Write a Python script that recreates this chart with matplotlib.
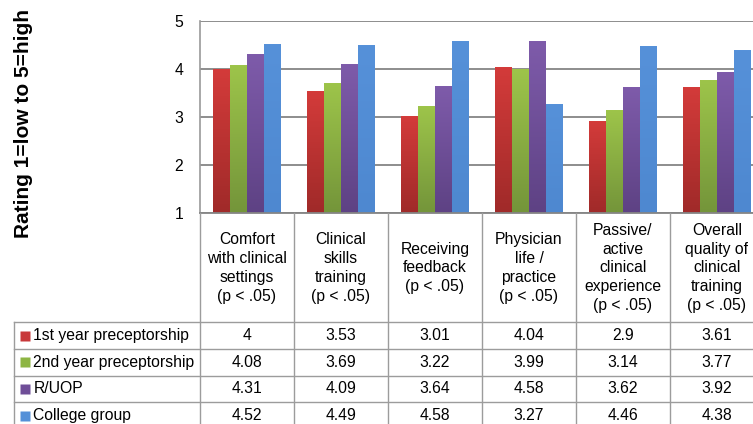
import numpy as np
import matplotlib
matplotlib.use('Agg')
import matplotlib.pyplot as plt
from matplotlib.colors import LinearSegmentedColormap

plt.rcParams['font.family'] = ['Liberation Sans', 'DejaVu Sans']

categories = ['Comfort\nwith clinical\nsettings\n(p < .05)',
              'Clinical\nskills\ntraining\n(p < .05)',
              'Receiving\nfeedback\n(p < .05)',
              'Physician\nlife /\npractice\n(p < .05)',
              'Passive/\nactive\nclinical\nexperience\n(p < .05)',
              'Overall\nquality of\nclinical\ntraining\n(p < .05)']
series = ['1st year preceptorship', '2nd year preceptorship', 'R/UOP', 'College group']
first_year = [4, 3.53, 3.01, 4.04, 2.9, 3.61]
second_year = [4.08, 3.69, 3.22, 3.99, 3.14, 3.77]
ruop = [4.31, 4.09, 3.64, 4.58, 3.62, 3.92]
college = [4.52, 4.49, 4.58, 3.27, 4.46, 4.38]
values = [first_year, second_year, ruop, college]
# (top colour, bottom colour) for the gradient fill
colors = [('#D33B3A', '#A02A29'), ('#9DC44A', '#74953A'),
          ('#7E5BAA', '#5E4284'), ('#5691D9', '#4E88D0')]
flat = ['#C8383A', '#8DB543', '#6F4E98', '#5490D8']

W, H = 753, 424
fig = plt.figure(figsize=(W / 100, H / 100), dpi=100)

# plot area in pixels: left 200, column width 94, y=5 at 21px, y=1 at 213px
col_w = 94
x0 = 200
fs = 11.3
ax = fig.add_axes([x0 / W, (H - 213) / H, 6 * col_w / W, 192 / H])
ax.set_xlim(-0.5, 5.5)
ax.set_ylim(1, 5)
ax.set_yticks([1, 2, 3, 4, 5])
ax.set_yticklabels(['1', '2', '3', '4', '5'], fontsize=fs)
ax.tick_params(axis='y', length=0, pad=12)
ax.set_xticks([])
ax.yaxis.grid(True, color='#858585', lw=1.3)
ax.set_axisbelow(True)
for s in ['top', 'right', 'bottom']:
    ax.spines[s].set_visible(False)
ax.spines['left'].set_color('#9a9a9a')
ax.spines['left'].set_linewidth(1.2)

x = np.arange(len(categories))
bw = 17 / col_w
grad = np.linspace(1, 0, 64).reshape(-1, 1)
for k, vals in enumerate(values):
    cmap = LinearSegmentedColormap.from_list('c%d' % k, [colors[k][1], colors[k][0]])
    offs = (k - 1.5) * bw
    bars = ax.bar(x + offs, np.array(vals) - 1, bw, bottom=1, color='none',
                  edgecolor='none', zorder=3)
    for b in bars:
        bx, by = b.get_x(), b.get_y()
        ax.imshow(grad, cmap=cmap, aspect='auto', zorder=3,
                  extent=[bx, bx + b.get_width(), by, by + b.get_height()],
                  vmin=0, vmax=1)
ax.set_xlim(-0.5, 5.5)
ax.set_ylim(1, 5)

# y label
fig.text(24 / W, 1 - 124 / H, 'Rating 1=low to 5=high', rotation=90,
         fontsize=15, fontweight='bold', ha='center', va='center')

# data table drawn in an overlay with pixel coordinates
tab = fig.add_axes([0, 0, 1, 1])
tab.set_xlim(0, W)
tab.set_ylim(H, 0)
tab.axis('off')
lc = '#9c9c9c'
right = x0 + 6 * col_w
row_lines = [322, 349, 375.5, 402, 429]
tab.plot([x0, right], [213, 213], color='#858585', lw=1.3)
for yl in row_lines:
    tab.plot([14, right], [yl, yl], color=lc, lw=1)
tab.plot([14, 14], [322, 429], color=lc, lw=1)
for i in range(7):
    xv = x0 + i * col_w
    tab.plot([xv, xv], [213, 429], color=lc, lw=1)

for i, cat in enumerate(categories):
    cx = x0 + (i + 0.5) * col_w
    tab.text(cx, 268, cat, ha='center', va='center', fontsize=fs,
             linespacing=1.32)
    for r in range(4):
        cy = (row_lines[r] + row_lines[r + 1]) / 2
        v = values[r][i]
        tab.text(cx, cy, ('%g' % v), ha='center', va='center', fontsize=fs)

for r, name in enumerate(series):
    cy = (row_lines[r] + row_lines[r + 1]) / 2
    tab.plot([25], [cy], marker='s', ms=7.8, color=flat[r], mec='none')
    tab.text(33.5, cy, name, ha='left', va='center', fontsize=fs)

fig.savefig('out.png', dpi=100)
